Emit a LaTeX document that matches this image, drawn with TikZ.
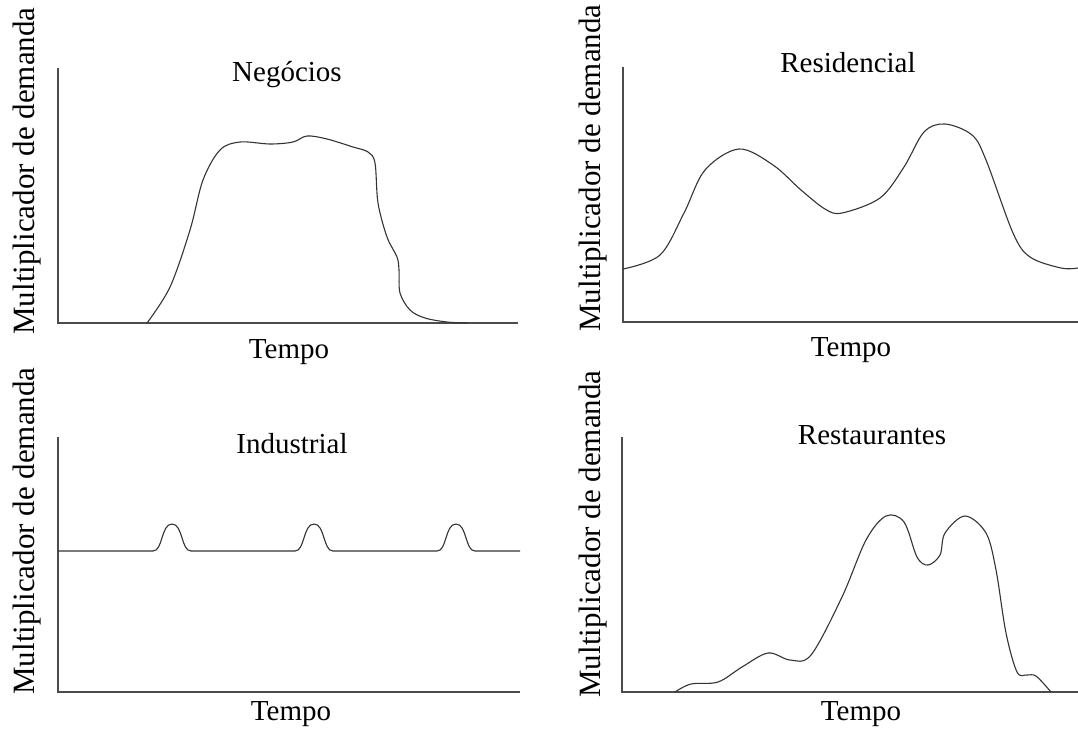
\documentclass[tikz,border=0pt]{standalone}
\usepackage{fontspec}
\setmainfont{Liberation Serif}
\usepackage{tikz}
\tikzset{axis/.style={draw=black!70, line width=1.4pt}}
\tikzset{curve/.style={draw=black!80, line width=1.1pt, line join=round}}
\tikzset{title/.style={anchor=base, inner sep=0pt, font=\fontsize{29}{34}\selectfont}}
\tikzset{ylab/.style={rotate=90, inner sep=0pt, font=\fontsize{31}{36}\selectfont}}

\begin{document}
\begin{tikzpicture}[x=1pt,y=-1pt]
  \useasboundingbox (0,0) rectangle (1078,728);
  % axes
  \foreach \x/\y/\len/\lab in {
    58/323/460/neg,
    623/322/455/res,
    58/692/462/ind,
    622/692/456/rst%
  } {
    \coordinate (\lab0) at (\x, \y);
    \coordinate (\lab top) at (\x, \y-255);
    \coordinate (\lab end) at (\x+\len, \y);
    \draw[axis] (\lab top) -- (\lab0) -- (\lab end);
  }
  % titles
  \foreach \x/\y/\lab/\txt in {
    287/81/negT/Negócios,
    848/72/resT/Residencial,
    292/453/indT/Industrial,
    872/444/rstT/Restaurantes,
    289/358/negX/Tempo,
    851/356/resX/Tempo,
    291/720/indX/Tempo,
    861/720/rstX/Tempo%
  } {
    \node[title] (\lab) at (\x, \y) {\txt};
  }
  \foreach \x/\y/\lab in {
    27/171/negY,
    593/168/resY,
    27/531/indY,
    593/534/rstY%
  } {
    \node[ylab] (\lab) at (\x, \y) {Multiplicador de demanda};
  }
  % curves
  \draw[curve] plot[smooth, tension=.55] coordinates {
    (147,323) (170,287) (190,230) (203,180) (220,150) (240,142) (270,144)
    (293,142) (307,136) (327,139) (353,147) (368,152) (375,163) (378,203)
    (387,237) (397,257) (399,270) (400,293) (410,310) (425,318) (447,322) (467,323)};
  \draw[curve] plot[smooth, tension=.55] coordinates {
    (623,269) (660,255) (684,213) (705,170) (739,149) (773,165) (801,190)
    (825,209) (842,213) (880,198) (904,167) (924,132) (945,124) (972,135)
    (986,160) (1013,233) (1030,257) (1061,268) (1078,268)};
  \draw[curve] (ind0 |- 0,551)
    \foreach \c in {172,314,456} {
      -- (\c-19,551) .. controls (\c-9,551) and (\c-11,524) .. (\c,524)
      .. controls (\c+11,524) and (\c+9,551) .. (\c+19,551)
    } -- (520,551);
  \draw[curve] plot[smooth, tension=.55] coordinates {
    (675,692) (691,684) (718,682) (742,667) (768,653) (790,660) (811,655)
    (842,597) (866,540) (886,516) (904,522) (917,557) (928,565) (940,555)
    (945,533) (965,516) (986,533) (996,570) (1006,633) (1017,672) (1027,675)
    (1036,676) (1051,692)};
\end{tikzpicture}
\end{document}
